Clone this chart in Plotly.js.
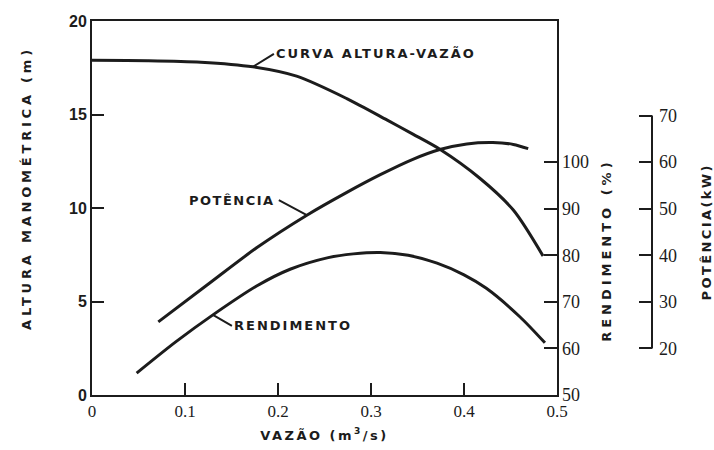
<!DOCTYPE html>
<html>
<head>
<meta charset="utf-8">
<script src="https://cdn.plot.ly/plotly-3.0.1.min.js"></script>
<style>
  html, body { margin: 0; padding: 0; background: #fff; }
  #chart { width: 714px; height: 450px; }
  .xtitle { letter-spacing: 2.5px; }
  .annotation-text { letter-spacing: 2px; }
  .annotation[data-index="0"] .annotation-text { letter-spacing: 3.8px; }
  .annotation[data-index="1"] .annotation-text { letter-spacing: 4px; }
  .annotation[data-index="2"] .annotation-text { letter-spacing: 2.4px; }
  .annotation[data-index="4"] .annotation-text { letter-spacing: 1.5px; }
</style>
</head>
<body>
<div id="chart"></div>
<script>
// Curva altura-vazão (left axis, m)
const flowHead = [0, 0.06, 0.117, 0.173, 0.22, 0.274, 0.317, 0.345, 0.374, 0.417, 0.453, 0.485];
const headM    = [17.9, 17.88, 17.8, 17.55, 17.05, 15.85, 14.71, 13.95, 13.14, 11.59, 9.89, 7.43];

// Rendimento (%)
const flowEff = [0.048, 0.09, 0.13, 0.177, 0.213, 0.254, 0.281, 0.31, 0.34, 0.371, 0.40, 0.424, 0.46, 0.487];
const effPct  = [54.7, 61.4, 67.2, 73.4, 77.0, 79.5, 80.3, 80.6, 80.0, 78.3, 75.8, 72.9, 66.8, 61.2];

// Potência (kW)
const flowPow = [0.0713, 0.123, 0.177, 0.231, 0.274, 0.31, 0.345, 0.374, 0.403, 0.431, 0.453, 0.469];
const powKW   = [25.7, 33.5, 41.6, 48.6, 53.5, 57.3, 60.6, 62.7, 63.9, 64.2, 63.8, 62.9];

// Tick labels
const xTicks = [0, 0.1, 0.2, 0.3, 0.4, 0.5];
const xTickText = ['0', '0.1', '0.2', '0.3', '0.4', '0.5'];
const headTicks = [0, 5, 10, 15, 20];
const effTicks = [50, 60, 70, 80, 90, 100];
const powTicks = [20, 30, 40, 50, 60, 70];

const ink = '#1c1c1c';
const lineStyle = {color: ink, width: 3, shape: 'spline', smoothing: 0.8};

const traces = [
  {x: flowHead, y: headM, yaxis: 'y', mode: 'lines', line: lineStyle, name: 'Curva altura-vazão'},
  {x: flowPow, y: powKW, yaxis: 'y3', mode: 'lines', line: lineStyle, name: 'Potência'},
  {x: flowEff, y: effPct, yaxis: 'y2', mode: 'lines', line: lineStyle, name: 'Rendimento'}
];

const labFont = {family: 'DejaVu Sans', size: 13, color: ink, weight: 'bold'};
const serifTick = {family: 'Liberation Serif', size: 18, color: ink};

const layout = {
  width: 714, height: 450,
  margin: {l: 92, r: 62, t: 21, b: 55},
  paper_bgcolor: '#fff', plot_bgcolor: '#fff',
  showlegend: false,
  xaxis: {
    domain: [0, 0.8304], range: [0, 0.5],
    tickvals: xTicks, ticktext: xTickText,
    ticks: 'inside', ticklen: 12, tickwidth: 2, tickcolor: ink,
    showline: true, linewidth: 2, linecolor: ink, mirror: true,
    showgrid: false, zeroline: false,
    tickfont: {family: 'Liberation Serif', size: 17, color: ink},
    title: {text: 'VAZÃO (m<sup>3</sup>/s)', font: labFont, standoff: 10}
  },
  yaxis: {
    range: [0, 20],
    tickvals: headTicks,
    ticks: 'inside', ticklen: 12, tickwidth: 2, tickcolor: ink,
    showline: true, linewidth: 2, linecolor: ink, mirror: true,
    showgrid: false, zeroline: false,
    tickfont: {family: 'Liberation Sans', size: 16, color: ink, weight: 'bold'}
  },
  yaxis2: {
    overlaying: 'y', side: 'right', anchor: 'x',
    range: [50, 130.3],
    tickvals: effTicks,
    ticks: 'inside', ticklen: 13, tickwidth: 2, tickcolor: ink,
    showline: false, showgrid: false, zeroline: false,
    tickfont: serifTick, ticklabelstandoff: 4
  },
  yaxis3: {
    overlaying: 'y', side: 'right', anchor: 'free', position: 1,
    range: [10, 90.3],
    tickvals: powTicks,
    ticks: 'inside', ticklen: 13, tickwidth: 2, tickcolor: ink,
    showline: false, showgrid: false, zeroline: false,
    tickfont: serifTick, ticklabelstandoff: 6
  },
  shapes: [
    {type: 'line', xref: 'paper', yref: 'y3', x0: 1, x1: 1, y0: powTicks[0], y1: powTicks[powTicks.length - 1],
     line: {color: ink, width: 2}}
  ],
  annotations: [
    {xref: 'paper', yref: 'paper', x: -0.118, y: 0.553, xanchor: 'center', yanchor: 'middle',
     text: 'ALTURA MANOMÉTRICA (m)', textangle: -90, showarrow: false, font: labFont},
    {xref: 'paper', yref: 'paper', x: 0.9196, y: 0.388, xanchor: 'center', yanchor: 'middle',
     text: 'RENDIMENTO (%)', textangle: -90, showarrow: false, font: labFont},
    {xref: 'paper', yref: 'paper', x: 1.0964, y: 0.4385, xanchor: 'center', yanchor: 'middle',
     text: 'POTÊNCIA(kW)', textangle: -90, showarrow: false, font: labFont},
    {xref: 'x', yref: 'y', x: flowHead[3], y: headM[3], text: 'CURVA ALTURA-VAZÃO',
     showarrow: true, arrowhead: 0, arrowwidth: 2, arrowcolor: ink,
     ax: 21, ay: -13, xanchor: 'left', font: labFont},
    {xref: 'x', yref: 'y3', x: flowPow[3], y: powKW[3], text: 'POTÊNCIA',
     showarrow: true, arrowhead: 0, arrowwidth: 2, arrowcolor: ink,
     ax: -28, ay: -15, xanchor: 'right', font: labFont},
    {xref: 'x', yref: 'y2', x: flowEff[2], y: effPct[2], text: 'RENDIMENTO',
     showarrow: true, arrowhead: 0, arrowwidth: 2, arrowcolor: ink,
     ax: 19, ay: 11, xanchor: 'left', font: labFont}
  ]
};

Plotly.newPlot('chart', traces, layout, {displayModeBar: false, staticPlot: true});
</script>
</body>
</html>
